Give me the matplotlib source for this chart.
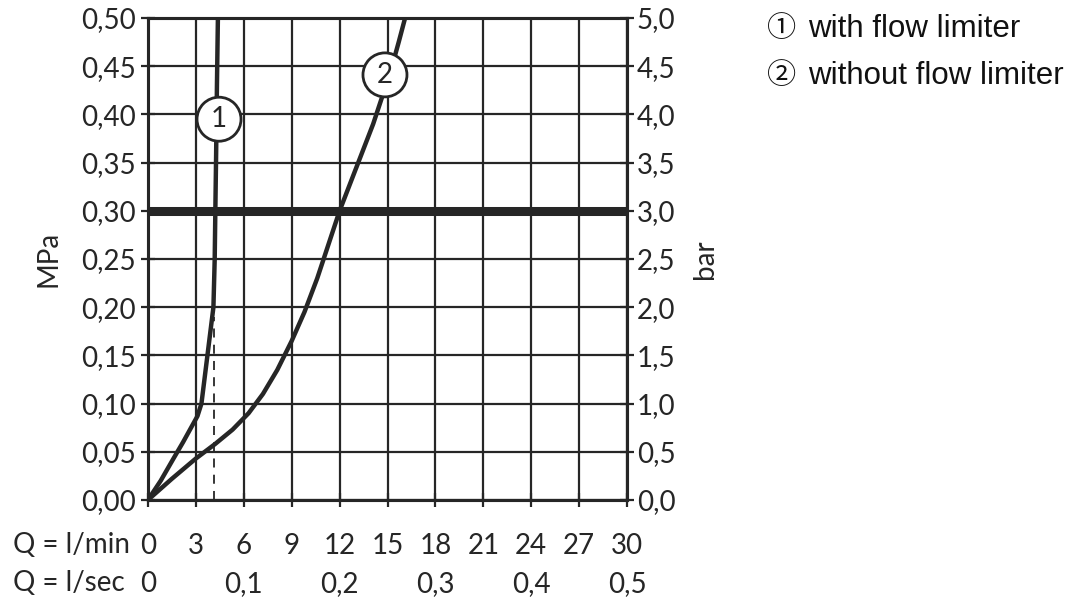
import numpy as np
import matplotlib.pyplot as plt
from matplotlib.patches import Ellipse

# ---------------------------------------------------------------
# Data
# ---------------------------------------------------------------
q1 = [0, 0.8, 1.6, 2.2, 2.7, 3.1, 3.35, 3.5, 3.65, 3.8, 3.95, 4.1, 4.18, 4.22, 4.27, 4.32, 4.38]
p1 = [0, 0.02, 0.043, 0.06, 0.075, 0.087, 0.1, 0.12, 0.14, 0.16, 0.18, 0.20, 0.25, 0.30, 0.36, 0.43, 0.50]

q2 = [0, 1.5, 3.0, 4.2, 5.3, 6.3, 7.2, 8.1, 9.0, 9.8, 10.6, 11.3, 12.0, 12.7, 13.4, 14.1, 14.7, 15.2, 15.7, 16.1]
p2 = [0, 0.022, 0.043, 0.058, 0.073, 0.09, 0.11, 0.135, 0.165, 0.195, 0.23, 0.265, 0.30, 0.33, 0.36, 0.39, 0.42, 0.445, 0.475, 0.50]

limit_p = 0.30
dash1_q, dash1_top = 4.15, 0.19
dash2_q, dash2_top = 12.0, 0.30

label1 = (4.45, 0.395, '1')
label2 = (14.84, 0.441, '2')

xticks_min = list(range(0, 31, 3))
xticks_sec = [0, 0.1, 0.2, 0.3, 0.4, 0.5]
yticks_mpa = [i * 0.05 for i in range(11)]
yticks_bar = [i * 0.5 for i in range(11)]

legend_marks = ['\u2460', '\u2461']
legend_texts = ['with flow limiter', 'without flow limiter']

# ---------------------------------------------------------------
# Figure
# ---------------------------------------------------------------
INK = '#262626'
FS = 20
plt.rcParams['font.family'] = ['Lato', 'DejaVu Sans']
fig = plt.figure(figsize=(10.72, 6.0), dpi=100)
ax = fig.add_axes([0.138, 0.1667, 0.447, 0.8033])

ax.set_xlim(0, 30)
ax.set_ylim(0, 0.5)
ax.set_xticks(xticks_min)
ax.set_yticks(yticks_mpa)
ax.grid(True, color=INK, lw=1.6)
ax.set_axisbelow(True)
for s in ax.spines.values():
    s.set_linewidth(2.2)
    s.set_color(INK)

ax.set_yticklabels([f'{v:.2f}'.replace('.', ',') for v in yticks_mpa], fontsize=FS, color=INK)
ax.set_xticklabels([])
ax.tick_params(axis='both', direction='inout', length=10, width=1.6, color=INK)
ax.tick_params(axis='y', pad=4)

ax.axhline(limit_p, color=INK, lw=6.5, zorder=3)
ax.plot([dash1_q, dash1_q], [0, dash1_top], color=INK, lw=1.3, ls=(0, (5, 4)), zorder=3)
ax.plot([dash2_q, dash2_q], [0, dash2_top], color=INK, lw=1.3, ls=(0, (5, 4)), zorder=3)

ax.plot(q1, p1, color=INK, lw=3.2, zorder=4, solid_capstyle='butt', solid_joinstyle='round')
ax.plot(q2, p2, color=INK, lw=3.2, zorder=4, solid_capstyle='butt', solid_joinstyle='round')

# circled curve numbers, radius in pixels converted to data units
r_px = 22
sx = 30 / (0.447 * 1072)
sy = 0.5 / (0.8033 * 600)
for qx, py, txt in [label1, label2]:
    ax.add_patch(Ellipse((qx, py), 2 * r_px * sx, 2 * r_px * sy, facecolor='white',
                         edgecolor=INK, lw=2, zorder=5))
    ax.text(qx, py, txt, ha='center', va='center', fontsize=FS, color=INK, zorder=6)

# x tick label rows
trans = ax.get_xaxis_transform()
for v in xticks_min:
    ax.text(v, -0.095, str(v), transform=trans, ha='center', va='center', fontsize=FS, color=INK)
for v in xticks_sec:
    ax.text(v * 60, -0.175, '0' if v == 0 else f'{v:.1f}'.replace('.', ','),
            transform=trans, ha='center', va='center', fontsize=FS, color=INK)
fig.text(0.012, 1 - 545 / 600, 'Q = l/min', ha='left', va='center', fontsize=FS, color=INK)
fig.text(0.012, 1 - 583 / 600, 'Q = l/sec', ha='left', va='center', fontsize=FS, color=INK)

ax.set_ylabel('MPa', fontsize=FS, color=INK, labelpad=14)

ax2 = ax.twinx()
ax2.set_ylim(0, 5)
ax2.set_yticks(yticks_bar)
ax2.set_yticklabels([f'{v:.1f}'.replace('.', ',') for v in yticks_bar], fontsize=FS, color=INK)
ax2.tick_params(axis='y', direction='inout', length=10, width=1.6, color=INK, pad=2)
for s in ax2.spines.values():
    s.set_linewidth(2.2)
    s.set_color(INK)
ax2.set_ylabel('bar', fontsize=FS, color=INK, labelpad=12)

for i, (m, t) in enumerate(zip(legend_marks, legend_texts)):
    y = 0.952 - i * 0.078
    fig.text(0.729, y, m, ha='center', va='center', fontsize=21,
             family=['Noto Sans CJK JP', 'DejaVu Sans'], color='#111111')
    fig.text(0.754, y, t, ha='left', va='center', fontsize=22.5,
             family=['Liberation Sans', 'DejaVu Sans'], color='#111111')

fig.savefig('out.png', dpi=100)
